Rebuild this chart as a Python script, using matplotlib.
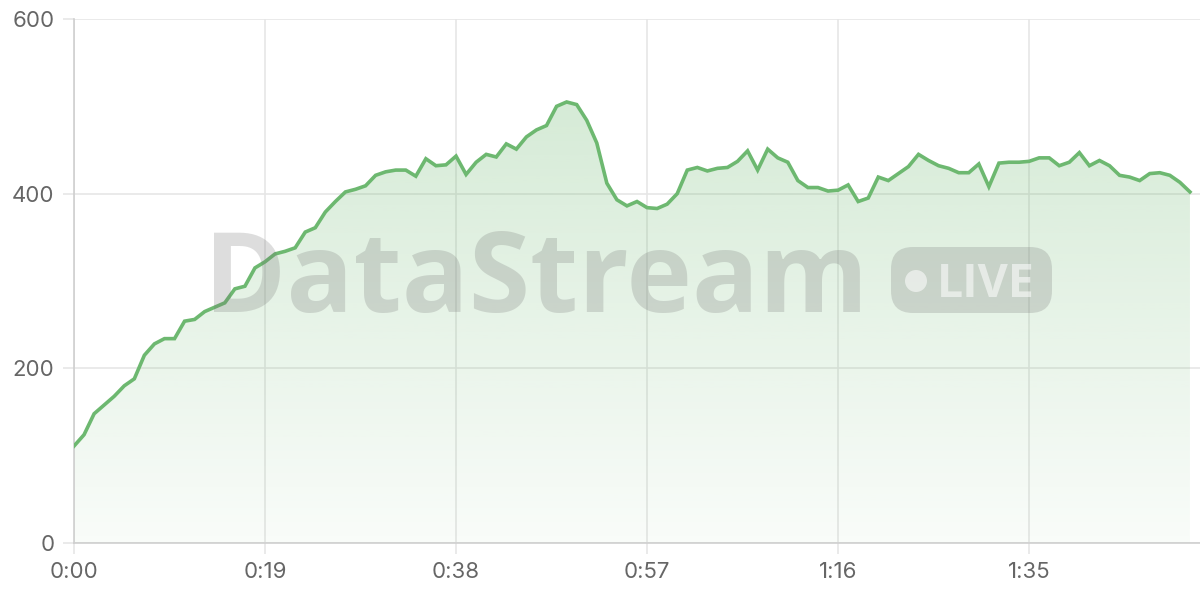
import numpy as np
import matplotlib.pyplot as plt
from matplotlib.patches import FancyBboxPatch, Circle, Polygon
from matplotlib.colors import to_rgb

# viewer count, one sample per second
viewers = [111, 124, 148, 158, 168, 180, 188, 215, 228, 234,
           234, 254, 256, 265, 270, 275, 291, 294, 315, 322,
           331, 334, 338, 356, 361, 379, 391, 402, 405, 409,
           421, 425, 427, 427, 420, 440, 432, 433, 443, 422,
           436, 445, 442, 457, 451, 465, 473, 478, 500, 505,
           502, 484, 458, 412, 393, 386, 391, 384, 383, 388,
           400, 427, 430, 426, 429, 430, 437, 449, 427, 451,
           441, 436, 415, 407, 407, 403, 404, 410, 391, 395,
           419, 415, 423, 431, 445, 438, 432, 429, 424, 424,
           434, 408, 435, 436, 436, 437, 441, 441, 432, 436,
           447, 432, 438, 432, 421, 419, 415, 423, 424, 421,
           413, 402]
seconds = np.arange(len(viewers))
x_ticks = [0, 19, 38, 57, 76, 95]
y_ticks = [0, 200, 400, 600]

line_color = "#6db870"
grid_color = "#e6e6e6"
label_color = "#666666"
plt.rcParams["font.family"] = ["Inter", "DejaVu Sans"]

fig = plt.figure(figsize=(12, 6), dpi=100)
ax = fig.add_axes([74 / 1200, 57 / 600, 1126 / 1200, 524 / 600])
ax.set_xlim(0, 112)
ax.set_ylim(0, 600)

# gradient fill under the line
rgb = to_rgb(line_color)
grad = np.zeros((256, 1, 4))
grad[:, 0, :3] = rgb
grad[:, 0, 3] = np.linspace(0.33, 0.04, 256)
img = ax.imshow(grad, extent=[0, seconds[-1], 0, 600], aspect="auto",
                origin="upper", zorder=1)
verts = [(0, 0)] + list(zip(seconds, viewers)) + [(seconds[-1], 0)]
clip = Polygon(verts, closed=True, facecolor="none", edgecolor="none",
               transform=ax.transData)
ax.add_patch(clip)
img.set_clip_path(clip)

ax.plot(seconds, viewers, color=line_color, lw=2.6, zorder=4,
        solid_joinstyle="miter")

# watermark (pixel coords, origin bottom left)
wm = (0.45, 0.45, 0.45)
fig.text(536 / 1200, 1 - 312 / 600, "DataStream", fontsize=80,
         fontweight="bold", family="Open Sans", color=wm, alpha=0.24,
         ha="center", va="baseline", zorder=3)
badge = FancyBboxPatch((891, 600 - 313), 161, 66,
                       boxstyle="round,pad=0,rounding_size=22",
                       transform=None, facecolor=wm, alpha=0.24,
                       edgecolor="none", zorder=3)
fig.patches.append(badge)
fig.patches.append(Circle((916, 600 - 281), 11, transform=None,
                          facecolor="white", alpha=0.55, edgecolor="none",
                          zorder=3))
fig.text(986 / 1200, 1 - 297 / 600, "LIVE", fontsize=33.5, fontweight="bold",
         family="Open Sans", color="white", alpha=0.55, ha="center",
         va="baseline", zorder=3)

ax.set_xticks(x_ticks)
ax.set_xticklabels([f"{t // 60}:{t % 60:02d}" for t in x_ticks])
ax.set_yticks(y_ticks)
ax.grid(True, color=grid_color, lw=1.2, zorder=0)
ax.set_axisbelow(True)
ax.tick_params(axis="both", length=8, width=1.2, color=grid_color,
               labelcolor=label_color, labelsize=16)
ax.tick_params(axis="x", pad=6)
ax.tick_params(axis="y", pad=6)
for s in ["top", "right"]:
    ax.spines[s].set_visible(False)
for s in ["left", "bottom"]:
    ax.spines[s].set_color("#cfcfcf")
    ax.spines[s].set_linewidth(1.2)

fig.savefig("out.png", dpi=100)
